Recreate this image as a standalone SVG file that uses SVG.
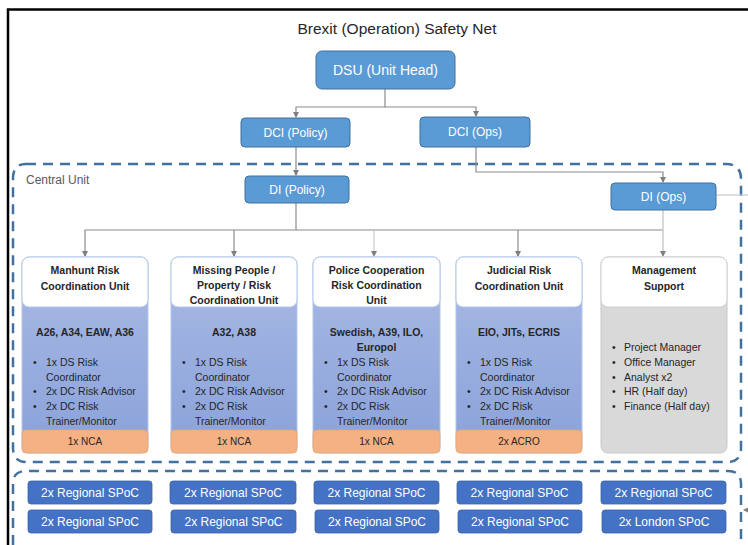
<svg xmlns="http://www.w3.org/2000/svg" width="748" height="545" viewBox="0 0 748 545">
<defs>
<linearGradient id="bl" x1="0" y1="0" x2="0" y2="1">
<stop offset="0" stop-color="#a9bae4"/>
<stop offset="1" stop-color="#8aa2da"/>
</linearGradient>
<marker id="ar" markerWidth="6" markerHeight="6" refX="5" refY="3" orient="auto" markerUnits="userSpaceOnUse">
<path d="M0,0 L6,3 L0,6 Z" fill="#7f7f7f"/>
</marker>
<style>
text{font-family:"Liberation Sans",Arial,sans-serif}
.blue{fill:#5b9bd5;stroke:#41719c;stroke-width:1}
.wt{fill:#fff;font-size:12px;text-anchor:middle}
.spoc rect{fill:#4472c4;stroke:#3a62a8;stroke-width:0.8}
.spoc text{fill:#fff;font-size:12px;text-anchor:middle}
.card .body{fill:url(#bl);stroke:#b4c7e7;stroke-width:1}
.card .hd{fill:#fff;stroke:#b4c7e7;stroke-width:1}
.card .or{fill:#f4b183;stroke:#e9a673;stroke-width:0.8}
.ht{font-size:10.5px;font-weight:bold;fill:#262626;text-anchor:middle}
.sub{font-size:10.5px;font-weight:bold;fill:#262626;text-anchor:middle}
.bt{font-size:10.5px;fill:#262626}
.ot{font-size:10px;fill:#262626;text-anchor:middle}
.con path{fill:none;stroke:#8c8c8c;stroke-width:1.2}
.dash{fill:none;stroke:#41719c;stroke-width:2.5;stroke-dasharray:10 7}
</style>
</defs>
<rect width="748" height="545" fill="#fff"/>
<path d="M8 545 V9.5 H748" fill="none" stroke="#000" stroke-width="2.5"/>
<text x="397" y="34" font-size="15.5" text-anchor="middle" fill="#262626">Brexit (Operation) Safety Net</text>

<path class="dash" d="M26 164 H726 Q741 164 741 179 V448 Q741 462 727 462 H27 Q13 462 13 448 V178 Q13 164 26 164 Z"/>
<path class="dash" d="M13 545 V484 Q13 471 26 471 H728 Q741 471 741 484 V545"/>
<text x="26" y="184" font-size="12" fill="#595959">Central Unit</text>

<g class="con">
<path d="M385 89 V107 H296 V117" marker-end="url(#ar)"/>
<path d="M385 107 H476 V116" marker-end="url(#ar)"/>
<path d="M296 147 V175" marker-end="url(#ar)"/>
<path d="M476 147 V172 H663 V182" marker-end="url(#ar)"/>
<path d="M716 195 H748" style="stroke:#c8c8c8"/>
<path d="M296 203 V230 H85 V256" marker-end="url(#ar)"/>
<path d="M234 230 V256" marker-end="url(#ar)"/>
<path d="M296 230 H663"/>
<path d="M374 230 V256" marker-end="url(#ar)" style="stroke:#c8c8c8"/>
<path d="M518 230 V256" marker-end="url(#ar)"/>
<path d="M663 210 V256" marker-end="url(#ar)" style="stroke:#c0c0c0"/>
<path d="M748 510 H744" marker-end="url(#ar)"/>
</g>

<g id="dsu"><rect class="blue" x="316" y="51" width="139" height="38" rx="6"/><text class="wt" x="385.5" y="75" font-size="14" style="font-size:14px">DSU (Unit Head)</text></g>
<g id="dci-policy"><rect class="blue" x="241" y="118" width="109" height="29" rx="4"/><text class="wt" x="295.5" y="137">DCI (Policy)</text></g>
<g id="dci-ops"><rect class="blue" x="420" y="117" width="110" height="30" rx="4"/><text class="wt" x="475" y="136">DCI (Ops)</text></g>
<g id="di-policy"><rect class="blue" x="245" y="176" width="104" height="27" rx="4"/><text class="wt" x="297" y="194">DI (Policy)</text></g>
<g id="di-ops"><rect class="blue" x="611" y="183" width="105" height="27" rx="4"/><text class="wt" x="663.5" y="201">DI (Ops)</text></g>

<g id="manhunt" class="card">
<rect class="body" x="22" y="257" width="126" height="196" rx="7"/>
<rect class="hd" x="22" y="257" width="126" height="50" rx="7"/>
<rect class="or" x="22" y="430" width="126" height="23" rx="4"/>
<text class="ht" x="85" y="274">Manhunt Risk</text>
<text class="ht" x="85" y="290">Coordination Unit</text>
<text class="sub" x="85" y="336">A26, A34, EAW, A36</text>
<text class="bt"><tspan x="33" y="366">•</tspan><tspan x="46" y="366">1x DS Risk</tspan><tspan x="46" y="381">Coordinator</tspan><tspan x="33" y="395">•</tspan><tspan x="46" y="395">2x DC Risk Advisor</tspan><tspan x="33" y="410">•</tspan><tspan x="46" y="410">2x DC Risk</tspan><tspan x="46" y="425">Trainer/Monitor</tspan></text>
<text class="ot" x="85" y="445">1x NCA</text>
</g>

<g id="missing" class="card">
<rect class="body" x="171" y="257" width="126" height="196" rx="7"/>
<rect class="hd" x="171" y="257" width="126" height="50" rx="7"/>
<rect class="or" x="171" y="430" width="126" height="23" rx="4"/>
<text class="ht" x="234" y="274">Missing People /</text>
<text class="ht" x="234" y="289">Property / Risk</text>
<text class="ht" x="234" y="304">Coordination Unit</text>
<text class="sub" x="234" y="336">A32, A38</text>
<text class="bt"><tspan x="182" y="366">•</tspan><tspan x="195" y="366">1x DS Risk</tspan><tspan x="195" y="381">Coordinator</tspan><tspan x="182" y="395">•</tspan><tspan x="195" y="395">2x DC Risk Advisor</tspan><tspan x="182" y="410">•</tspan><tspan x="195" y="410">2x DC Risk</tspan><tspan x="195" y="425">Trainer/Monitor</tspan></text>
<text class="ot" x="234" y="445">1x NCA</text>
</g>

<g id="police" class="card">
<rect class="body" x="313" y="257" width="127" height="196" rx="7"/>
<rect class="hd" x="313" y="257" width="127" height="50" rx="7"/>
<rect class="or" x="313" y="430" width="127" height="23" rx="4"/>
<text class="ht" x="376.5" y="274">Police Cooperation</text>
<text class="ht" x="376.5" y="289">Risk Coordination</text>
<text class="ht" x="376.5" y="304">Unit</text>
<text class="sub" x="376.5" y="336">Swedish, A39, ILO,</text>
<text class="sub" x="376.5" y="351">Europol</text>
<text class="bt"><tspan x="324" y="366">•</tspan><tspan x="337" y="366">1x DS Risk</tspan><tspan x="337" y="381">Coordinator</tspan><tspan x="324" y="395">•</tspan><tspan x="337" y="395">2x DC Risk Advisor</tspan><tspan x="324" y="410">•</tspan><tspan x="337" y="410">2x DC Risk</tspan><tspan x="337" y="425">Trainer/Monitor</tspan></text>
<text class="ot" x="376.5" y="445">1x NCA</text>
</g>

<g id="judicial" class="card">
<rect class="body" x="456" y="257" width="126" height="196" rx="7"/>
<rect class="hd" x="456" y="257" width="126" height="50" rx="7"/>
<rect class="or" x="456" y="430" width="126" height="23" rx="4"/>
<text class="ht" x="519" y="274">Judicial Risk</text>
<text class="ht" x="519" y="290">Coordination Unit</text>
<text class="sub" x="519" y="336">EIO, JITs, ECRIS</text>
<text class="bt"><tspan x="467" y="366">•</tspan><tspan x="480" y="366">1x DS Risk</tspan><tspan x="480" y="381">Coordinator</tspan><tspan x="467" y="395">•</tspan><tspan x="480" y="395">2x DC Risk Advisor</tspan><tspan x="467" y="410">•</tspan><tspan x="480" y="410">2x DC Risk</tspan><tspan x="480" y="425">Trainer/Monitor</tspan></text>
<text class="ot" x="519" y="445">2x ACRO</text>
</g>

<g id="management" class="card">
<rect x="601" y="257" width="126" height="196" rx="7" fill="#d9d9d9" stroke="#c9c9c9"/>
<rect x="601" y="257" width="126" height="50" rx="7" fill="#fff" stroke="#d0d0d0"/>
<text class="ht" x="664" y="274">Management</text>
<text class="ht" x="664" y="290">Support</text>
<text class="bt"><tspan x="612" y="351">•</tspan><tspan x="624" y="351">Project Manager</tspan><tspan x="612" y="366">•</tspan><tspan x="624" y="366">Office Manager</tspan><tspan x="612" y="381">•</tspan><tspan x="624" y="381">Analyst x2</tspan><tspan x="612" y="395">•</tspan><tspan x="624" y="395">HR (Half day)</tspan><tspan x="612" y="410">•</tspan><tspan x="624" y="410">Finance (Half day)</tspan></text>
</g>

<g id="spoc-1a" class="spoc"><rect x="28" y="481" width="124" height="23" rx="3"/><text x="90" y="497">2x Regional SPoC</text></g>
<g id="spoc-1b" class="spoc"><rect x="28" y="510" width="124" height="23" rx="3"/><text x="90" y="526">2x Regional SPoC</text></g>
<g id="spoc-2a" class="spoc"><rect x="170" y="481" width="126" height="23" rx="3"/><text x="233" y="497">2x Regional SPoC</text></g>
<g id="spoc-2b" class="spoc"><rect x="171" y="510" width="125" height="23" rx="3"/><text x="233.5" y="526">2x Regional SPoC</text></g>
<g id="spoc-3a" class="spoc"><rect x="314" y="481" width="125" height="23" rx="3"/><text x="376.5" y="497">2x Regional SPoC</text></g>
<g id="spoc-3b" class="spoc"><rect x="315" y="510" width="124" height="23" rx="3"/><text x="377" y="526">2x Regional SPoC</text></g>
<g id="spoc-4a" class="spoc"><rect x="457" y="481" width="125" height="23" rx="3"/><text x="519.5" y="497">2x Regional SPoC</text></g>
<g id="spoc-4b" class="spoc"><rect x="458" y="510" width="124" height="23" rx="3"/><text x="520" y="526">2x Regional SPoC</text></g>
<g id="spoc-5a" class="spoc"><rect x="601" y="481" width="125" height="23" rx="3"/><text x="663.5" y="497">2x Regional SPoC</text></g>
<g id="spoc-5b" class="spoc"><rect x="602" y="510" width="124" height="23" rx="3"/><text x="664" y="526">2x London SPoC</text></g>
</svg>
